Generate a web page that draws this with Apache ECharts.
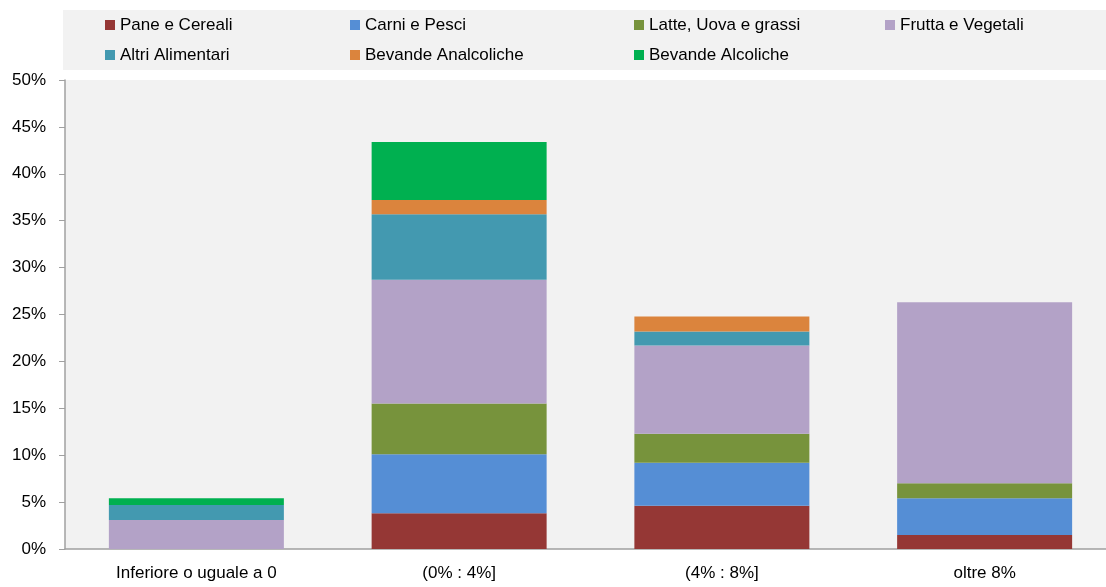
<!DOCTYPE html>
<html><head><meta charset="utf-8">
<script src="https://cdn.jsdelivr.net/npm/echarts@6/dist/echarts.min.js"></script>
<style>html,body{margin:0;padding:0;background:#fff;overflow:hidden;width:1106px;height:587px}#c{width:1116px;height:587px}</style>
</head><body><div id="c"></div>
<script>
const categories = ['Inferiore o uguale a 0', '(0% : 4%]', '(4% : 8%]', 'oltre 8%'];
const seriesNames = ['Pane e Cereali', 'Carni e Pesci', 'Latte, Uova e grassi', 'Frutta e Vegetali', 'Altri Alimentari', 'Bevande Analcoliche', 'Bevande Alcoliche'];
const pane = [0, 3.8, 4.6, 1.5];
const carni = [0, 6.3, 4.6, 3.9];
const latte = [0, 5.4, 3.1, 1.6];
const frutta = [3.1, 13.2, 9.4, 19.3];
const altri = [1.6, 7.0, 1.5, 0];
const analcoliche = [0, 1.5, 1.6, 0];
const alcoliche = [0.7, 6.2, 0, 0];
const yTicks = [0, 5, 10, 15, 20, 25, 30, 35, 40, 45, 50];

const colors = ['#953735', '#558ED5', '#77933C', '#B3A2C7', '#4399B0', '#DB843D', '#00B050'];
const values = [pane, carni, latte, frutta, altri, analcoliche, alcoliche];
const FONT = "'Liberation Sans', Arial, sans-serif";

const legendPos = [[105, 15], [350, 15], [634, 15], [885, 15], [105, 45], [350, 45], [634, 45]];
const legends = seriesNames.map((n, i) => ({
  data: [n], left: legendPos[i][0], top: legendPos[i][1], padding: 0,
  itemWidth: 10, itemHeight: 10, icon: 'rect', selectedMode: false,
  textStyle: { fontFamily: FONT, fontSize: 17, color: '#000', lineHeight: 20 }
}));

const chart = echarts.init(document.getElementById('c'), null, { renderer: 'canvas' });
chart.setOption({
  animation: false,
  color: colors,
  textStyle: { fontFamily: FONT },
  graphic: [{ type: 'rect', shape: { x: 63, y: 10, width: 1060, height: 60 }, style: { fill: '#F2F2F2' }, z: 0 }],
  legend: legends,
  grid: { left: 65, top: 80, right: 0, bottom: 38, show: true, backgroundColor: '#F2F2F2', borderWidth: 0, containLabel: false },
  xAxis: {
    type: 'category', data: categories,
    axisLine: { lineStyle: { color: '#A0A0A0', width: 1.5 } },
    axisTick: { show: false },
    axisLabel: { fontFamily: FONT, fontSize: 17, color: '#000', margin: 16 }
  },
  yAxis: {
    type: 'value', min: yTicks[0], max: yTicks[yTicks.length - 1], interval: 5,
    axisLine: { show: true, lineStyle: { color: '#A0A0A0', width: 1.5 } },
    axisTick: { show: true, length: 6, lineStyle: { color: '#A0A0A0' } },
    splitLine: { show: false },
    axisLabel: { fontFamily: FONT, fontSize: 17, color: '#000', margin: 19, formatter: '{value}%' }
  },
  series: seriesNames.map((n, i) => ({
    name: n, type: 'bar', stack: 'tot', data: values[i], barWidth: 175,
    itemStyle: { color: colors[i] }
  }))
});
</script></body></html>
